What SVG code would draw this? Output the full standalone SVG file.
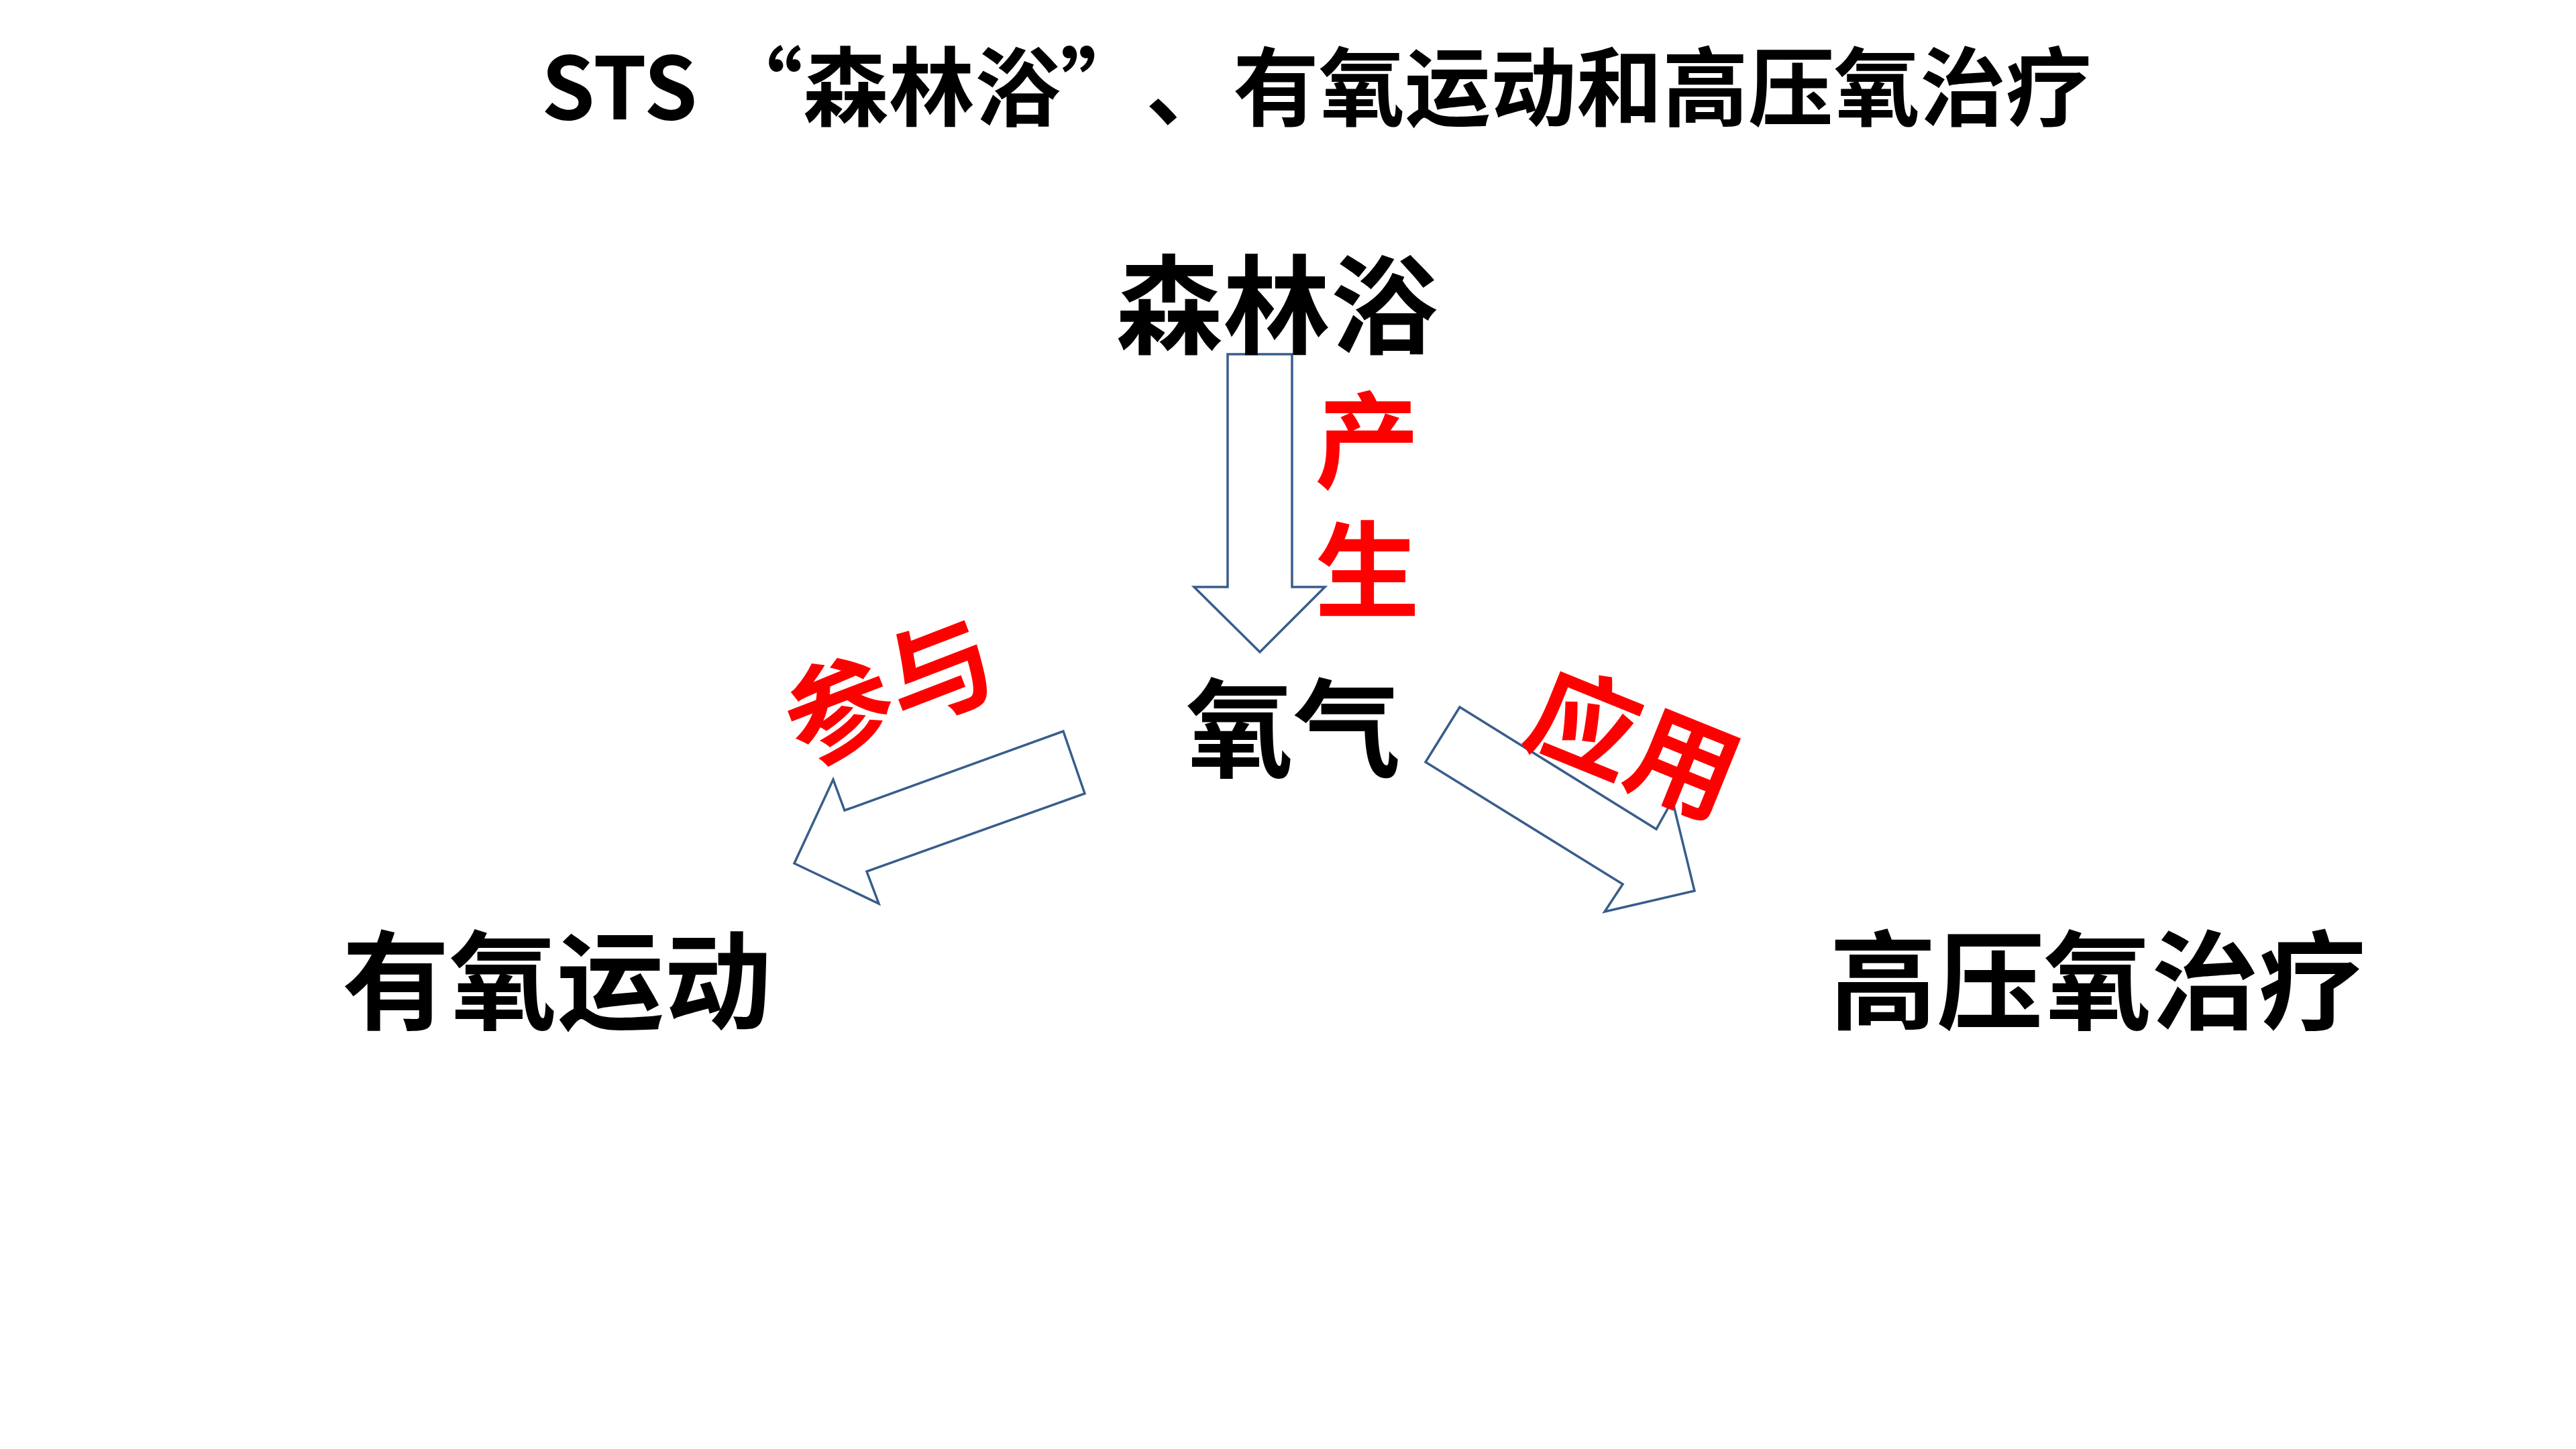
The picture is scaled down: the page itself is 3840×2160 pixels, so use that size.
<svg xmlns="http://www.w3.org/2000/svg" width="3840" height="2160" viewBox="0 0 3840 2160">
  <style>
    .t { font-family: "Noto Sans CJK SC", "Microsoft YaHei", sans-serif; font-weight: 700; }
    .blk { fill: #000000; }
    .red { fill: #FF0000; }
    .arrow { fill: #FFFFFF; stroke: #385D8A; stroke-width: 3.5; stroke-linejoin: miter; }
  </style>
  <rect x="0" y="0" width="3840" height="2160" fill="#FFFFFF"/>

  <g id="title">
    <text class="t blk" font-size="128" y="178"><tspan x="807">STS “森林浴”</tspan><tspan x="1708">、</tspan><tspan x="1838">有氧运动和高压氧治疗</tspan></text>
  </g>

  <g id="connectors">
    <polygon id="arrow-down" class="arrow" points="1830,528 1926,528 1926,875 1975,875 1878,972 1780,875 1830,875"/>
    <polygon id="arrow-left" class="arrow" points="1585,1090 1617,1183 1292,1299 1310,1347 1184,1287 1242,1162 1259,1208"/>
    <polygon id="arrow-right" class="arrow" points="2176,1054 2469,1236 2493,1193 2526,1328 2392,1359 2419,1318 2125,1136"/>
  </g>

  <g id="node-forest">
    <text class="t blk" x="1903" y="515" font-size="160" text-anchor="middle">森林浴</text>
  </g>
  <g id="node-oxygen">
    <text class="t blk" x="1928" y="1146" font-size="160" text-anchor="middle">氧气</text>
  </g>
  <g id="node-aerobic">
    <text class="t blk" x="830" y="1522" font-size="160" text-anchor="middle">有氧运动</text>
  </g>
  <g id="node-hyperbaric">
    <text class="t blk" x="3127" y="1522" font-size="160" text-anchor="middle">高压氧治疗</text>
  </g>

  <g id="label-produce">
    <text class="t red" x="2038" y="578" font-size="156" writing-mode="vertical-rl" letter-spacing="37">产生</text>
  </g>
  <g id="label-participate" transform="translate(1326,1030) rotate(-21)">
    <text class="t red" x="0" y="58" font-size="160" text-anchor="middle">参与</text>
  </g>
  <g id="label-apply" transform="translate(2436,1109) rotate(22)">
    <text class="t red" x="0" y="58" font-size="160" text-anchor="middle">应用</text>
  </g>
</svg>
